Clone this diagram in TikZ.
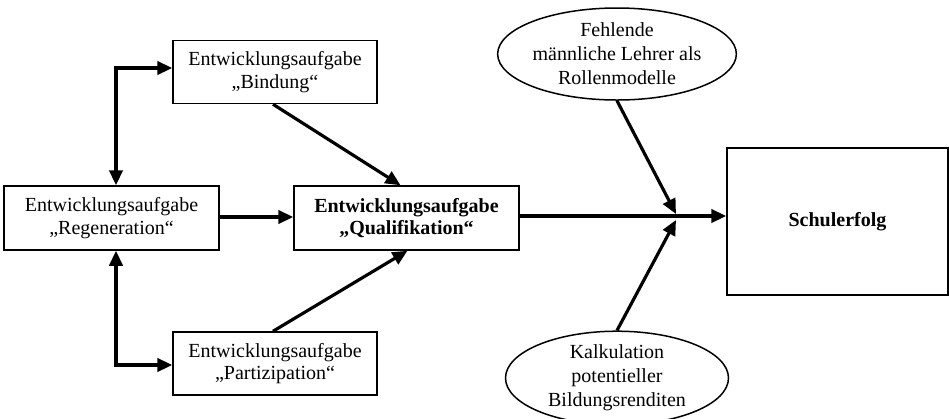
\documentclass[tikz,border=0pt]{standalone}
\usepackage{fontspec}
\setmainfont{Liberation Serif}
\usetikzlibrary{arrows.meta,shapes.geometric,calc}
\tikzset{
  taskbox/.style={draw, line width=0.9pt, align=center, inner sep=0pt, font=\fontsize{12}{13.4}\selectfont},
  factor/.style={draw, ellipse, line width=0.9pt, align=center, inner sep=0pt, minimum width=133.8pt, minimum height=55.2pt, font=\fontsize{12}{14.4}\selectfont},
  conn/.style={line width=1.9pt, -{Triangle[length=9pt,width=8pt]}},
  dconn/.style={line width=1.9pt, {Triangle[length=9pt,width=8pt]}-{Triangle[length=9pt,width=8pt]}},
}
\begin{document}
\begin{tikzpicture}[x=0.6pt,y=-0.6pt]
\useasboundingbox (0,0) rectangle (949,418);
\node[taskbox, minimum width=122.4pt, minimum height=37.8pt] (B) at (275,72) {Entwicklungsaufgabe\\„Bindung“};
\node[taskbox, minimum width=129pt, minimum height=38.4pt] (R) at (111.5,218) {Entwicklungsaufgabe\\„Regeneration“};
\node[taskbox, minimum width=135pt, minimum height=38.4pt, font=\fontsize{12}{13.4}\selectfont\bfseries] (Q) at (406.5,218) {Entwicklungsaufgabe\\„Qualifikation“};
\node[taskbox, minimum width=122.4pt, minimum height=37.8pt] (P) at (275,363.5) {Entwicklungsaufgabe\\„Partizipation“};
\node[taskbox, minimum width=132.6pt, minimum height=88.2pt, font=\fontsize{12}{13.4}\selectfont\bfseries] (S) at (837.5,221.5) {Schulerfolg};
\node[factor] (E1) at (617,54) {Fehlende\\männliche Lehrer als\\Rollenmodelle};
\node[factor] (E2) at (617,378) {Kalkulation\\potentieller\\Bildungsrenditen};
\coordinate (J) at (677,216);
\coordinate (c1) at (116,68);
\coordinate (c2) at (116,365);
% connectors
\draw[conn] (R.east |- 0,217) -- (Q.west |- 0,217);
\draw[conn] ($(B.south)+(-2,0)$) -- ($(Q.north)+(-6,0)$);
\draw[conn] ($(P.north)+(-2,0)$) -- ($(Q.south)+(1,0)$);
\draw[dconn] (c1 |- R.north) -- (c1) -- (B.west |- c1);
\draw[dconn] (c2 |- R.south) -- (c2) -- (P.west |- c2);
\draw[line width=2.4pt] (Q.east |- J) -- (J);
\draw[conn] (J) -- (S.west |- J);
\draw[conn] (E1.south) -- ($(J)+(-1,-2)$);
\draw[conn] (E2.north) -- ($(J)+(-1,4)$);
\end{tikzpicture}
\end{document}
